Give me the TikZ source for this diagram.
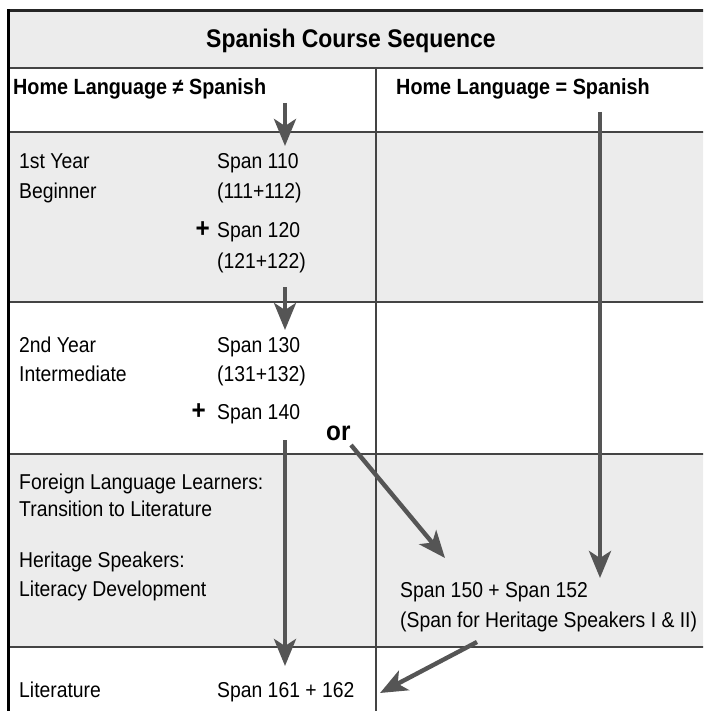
\documentclass[tikz,border=0pt]{standalone}
\usepackage{fontspec}
\setmainfont{Liberation Sans}[FakeStretch=0.9]
\usetikzlibrary{arrows.meta,calc,positioning}
\definecolor{bandgray}{HTML}{ECECEC}
\definecolor{arrowgray}{HTML}{555555}
\definecolor{rulegray}{HTML}{444444}

\begin{document}
\begin{tikzpicture}[x=1pt,y=-1pt,
  txt/.style={anchor=base west,inner sep=0pt,font=\fontsize{21.5}{24}\selectfont},
  hdr/.style={anchor=base west,inner sep=0pt,font=\bfseries\fontsize{22}{24}\selectfont},
  plus/.style={anchor=base east,inner sep=0pt,font=\bfseries\fontsize{27}{28}\selectfont},
  flow/.style={-{Stealth[length=27pt,width=22pt,inset=7pt]},line width=4.4pt,draw=arrowgray},
  rule/.style={draw=rulegray,line width=1.6pt}]
\useasboundingbox (0,0) rectangle (703,711);
\clip (0,0) rectangle (703,711);
% shaded bands
\fill[bandgray] (8,11) rectangle (720,68);
\fill[bandgray] (8,132) rectangle (720,302);
\fill[bandgray] (8,454) rectangle (720,647);
% grid
\draw[rule] (8,68) -- (720,68);
\draw[rule] (8,132) -- (720,132);
\draw[rule] (8,302) -- (720,302);
\draw[rule] (8,454) -- (720,454);
\draw[rule] (8,647) -- (720,647);
\draw[draw=rulegray,line width=1.3pt] (376,68) -- (376,720);
\draw[draw=black!85,line width=3pt] (7,11) -- (720,11);
\draw[black,line width=2.7pt] (8.5,9.5) -- (8.5,720);

\node[anchor=base,inner sep=0pt,font=\bfseries\fontsize{25.5}{28}\selectfont] (title) at (351,48) {Spanish Course Sequence};
\node[hdr] (hnot) at (13,95) {Home Language ≠ Spanish};
\node[hdr] (his) at (396,95) {Home Language = Spanish};

% first year
\node[txt] (yr1) at (19,169) {1st Year};
\node[txt] (beg) at (19,199) {Beginner};
\node[txt] (s110) at (217,169) {Span 110};
\node[txt] (s110b) at (217,199) {(111+112)};
\node[txt] (s120) at (217,237) {Span 120};
\node[plus] (p120) at (210,237) {+};
\node[txt] (s120b) at (217,268) {(121+122)};

% second year
\node[txt] (yr2) at (19,352) {2nd Year};
\node[txt] (inter) at (19,381) {Intermediate};
\node[txt] (s130) at (217,352) {Span 130};
\node[txt] (s130b) at (217,381) {(131+132)};
\node[txt] (s140) at (217,419) {Span 140};
\node[plus] (p140) at (206,419) {+};
\node[anchor=base west,inner sep=0pt,font=\bfseries\fontsize{27}{28}\selectfont] (or) at (326,440) {or};

% transition
\node[txt] (fll) at (19,489) {Foreign Language Learners:};
\node[txt] (trans) at (19,516) {Transition to Literature};
\node[txt] (her) at (19,567) {Heritage Speakers:};
\node[txt] (lit) at (19,596) {Literacy Development};
\node[txt] (s150) at (400,597) {Span 150 + Span 152};
\node[txt] (s150b) at (400,627) {(Span for Heritage Speakers I \& II)};

% literature
\node[txt] (litr) at (19,697) {Literature};
\node[txt] (s161) at (217,697) {Span 161 + 162};

% arrow ends
\coordinate (topL) at (285,103);
\coordinate (into1) at (285,146);
\coordinate (out1) at (285,287);
\coordinate (into2) at (285,330);
\coordinate (out2) at (285,440);
\coordinate (into4) at (285,666);
\coordinate (orS) at (351,445);
\coordinate (orE) at (445,558);
\coordinate (topR) at (600,112);
\coordinate (intoR) at (600,578);
\coordinate (backS) at (477,642);
\coordinate (backE) at (380,693);

\draw[flow] (topL) -- (into1);
\draw[flow] (out1) -- (into2);
\draw[flow] (out2) -- (into4);
\draw[flow] (orS) -- (orE);
\draw[flow] (topR) -- (intoR);
\draw[flow] (backS) -- (backE);
\end{tikzpicture}
\end{document}
